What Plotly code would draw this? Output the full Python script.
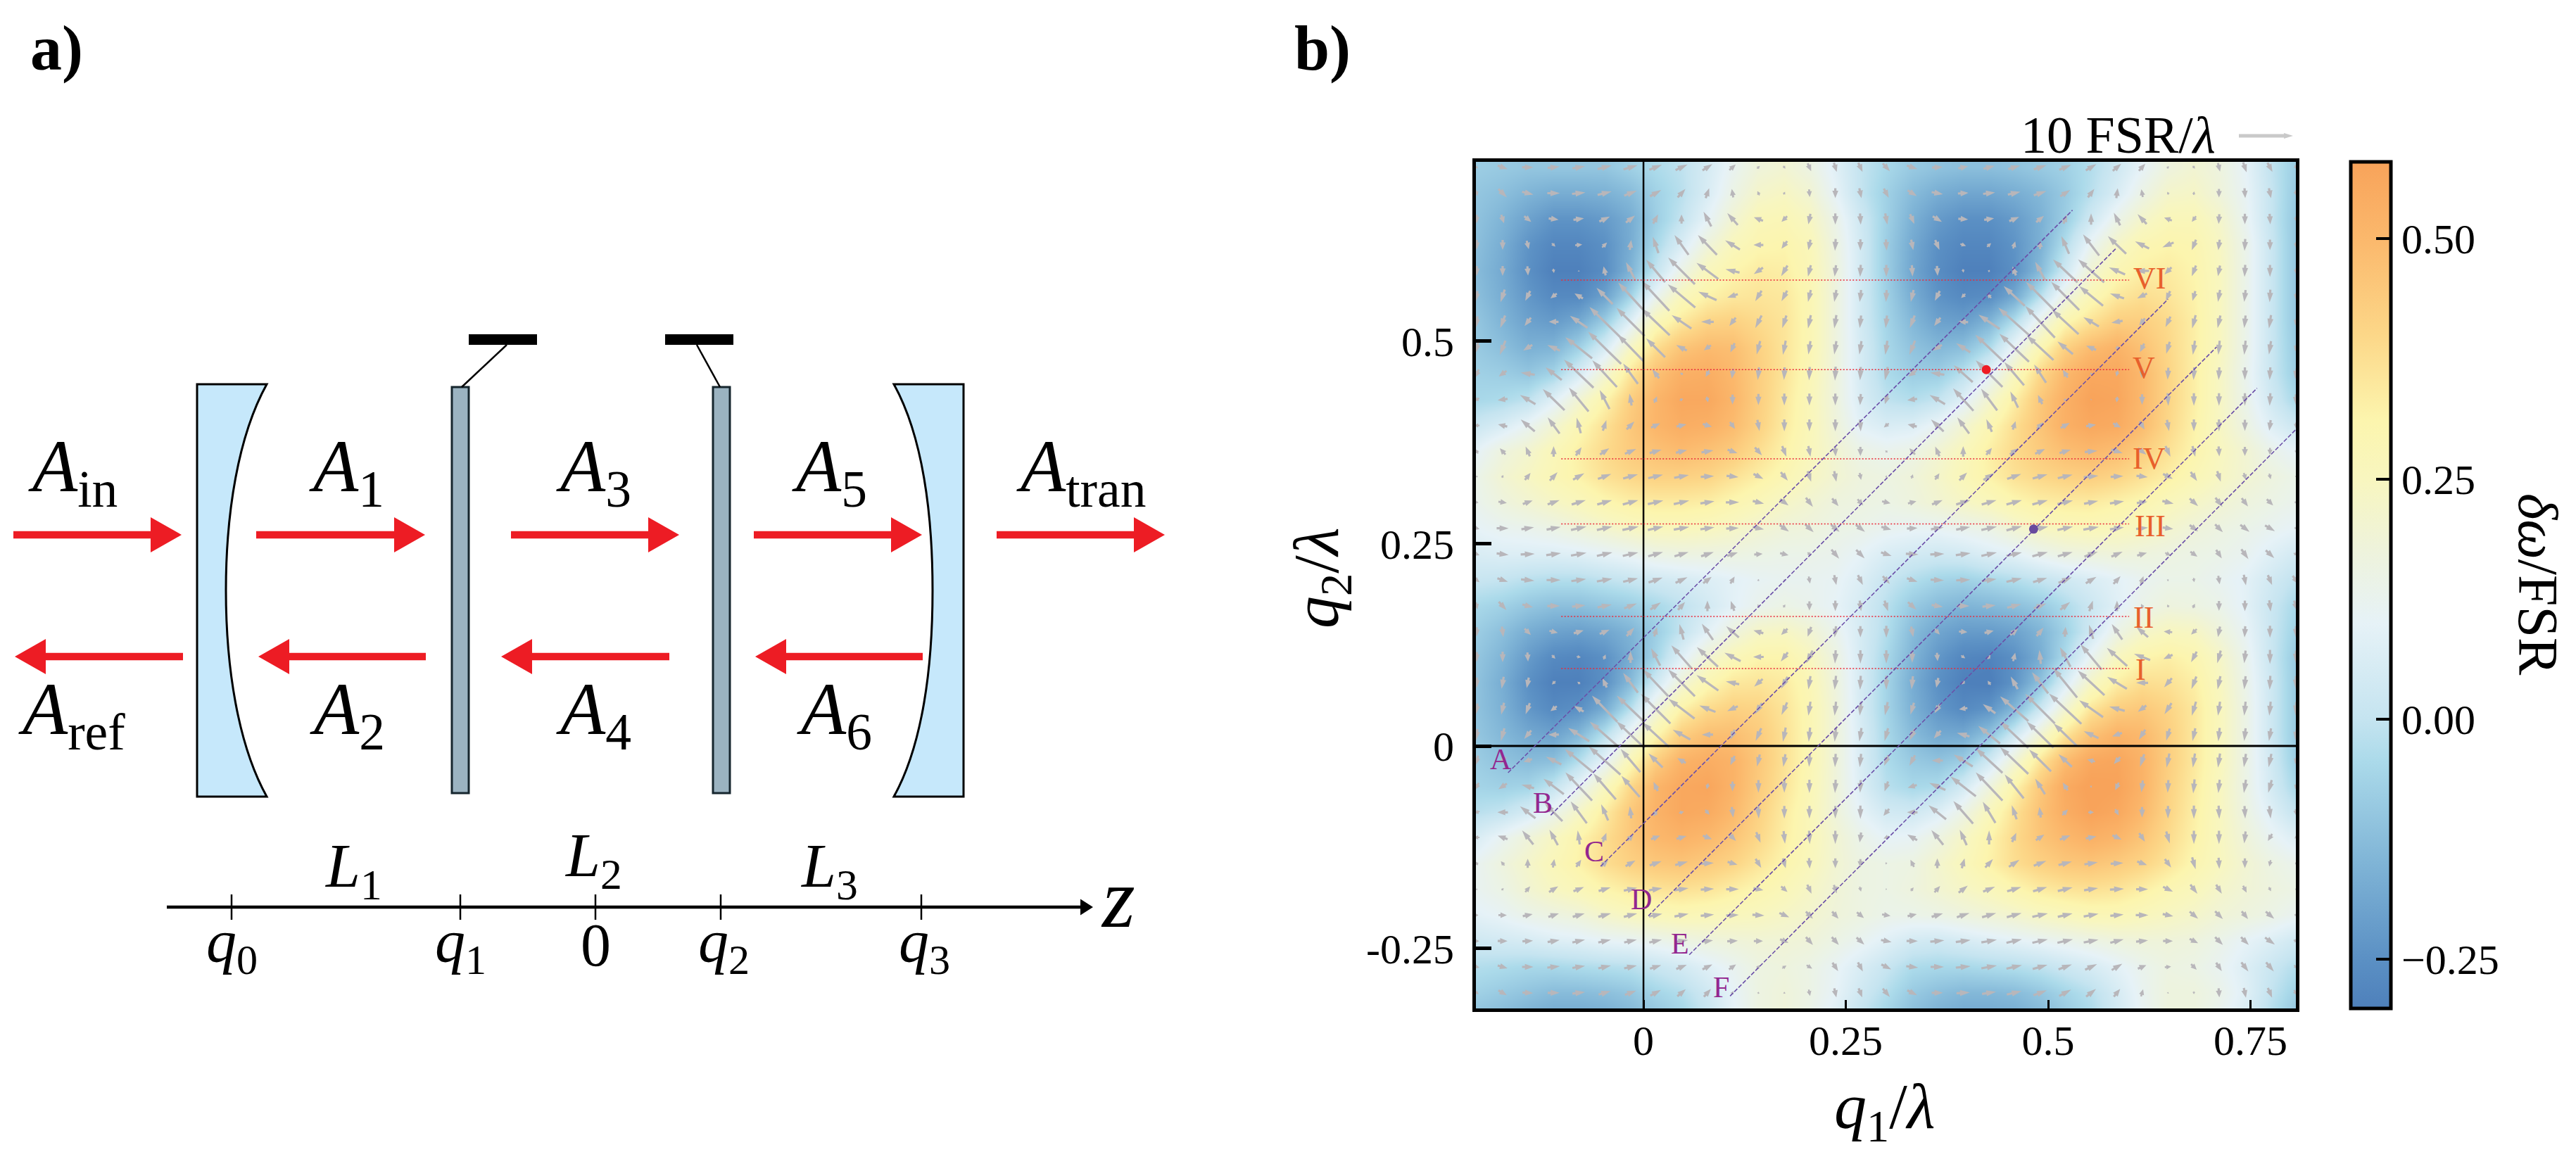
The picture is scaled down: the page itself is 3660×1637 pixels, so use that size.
import math

import plotly.graph_objects as go

#Sample points of the map and the arrow field.
q1_grid = [-0.206, -0.174, -0.143, -0.111, -0.080, -0.048, -0.016, 0.015, 0.047, 0.079, 0.110,
           0.142, 0.174, 0.205, 0.237, 0.268, 0.300, 0.332, 0.363, 0.395, 0.427, 0.458,
           0.490, 0.521, 0.553, 0.585, 0.616, 0.648, 0.680, 0.711, 0.743, 0.774, 0.806]
q2_grid = [0.715, 0.683, 0.651, 0.619, 0.587, 0.556, 0.524, 0.492, 0.460, 0.428, 0.396,
           0.364, 0.333, 0.301, 0.269, 0.237, 0.205, 0.173, 0.141, 0.110, 0.078, 0.046,
           0.014, -0.018, -0.050, -0.082, -0.113, -0.145, -0.177, -0.209, -0.241, -0.273, -0.305]
q2_heat_extra = -0.337

#delta omega / FSR in hundredths, one row per q2 value from the top.
heat_rows = [
    [-8,-9,-10,-10,-10,-10,-7,-4,-1,5,12,18,20,16,8,0,-5,-9,-11,-12,-12,-11,-9,-7,-3,3,10,17,20,17,10,0,-8],
    [-10,-12,-15,-17,-17,-16,-13,-7,-2,6,15,22,24,20,10,0,-7,-13,-17,-19,-19,-17,-14,-9,-2,6,15,22,23,18,11,1,-9],
    [-11,-15,-20,-24,-24,-22,-17,-8,0,10,20,27,28,24,14,3,-7,-16,-22,-25,-25,-22,-16,-8,3,14,22,27,27,22,12,1,-10],
    [-12,-17,-24,-28,-28,-25,-17,-5,6,18,26,30,31,27,16,4,-8,-18,-25,-28,-28,-24,-16,-3,12,23,29,31,30,24,14,2,-10],
    [-13,-18,-25,-30,-30,-26,-15,0,15,26,31,34,33,28,17,4,-8,-19,-26,-30,-30,-25,-13,3,20,29,33,34,31,25,14,2,-10],
    [-12,-17,-23,-27,-27,-20,-6,12,26,32,35,36,35,29,17,4,-7,-17,-24,-27,-26,-18,-2,16,28,35,38,36,32,25,14,2,-10],
    [-10,-15,-20,-22,-18,-8,8,27,35,41,42,39,36,29,17,4,-6,-14,-20,-21,-15,-3,15,30,37,43,43,39,33,25,14,2,-10],
    [-9,-12,-16,-15,-7,5,24,38,46,49,48,42,36,29,17,5,-5,-11,-14,-12,-4,12,29,42,49,52,47,40,33,25,14,2,-9],
    [-7,-8,-10,-6,5,20,36,47,53,54,50,43,36,28,17,5,-4,-8,-8,-2,9,25,40,50,56,56,50,41,33,24,13,2,-8],
    [-5,-4,-1,8,20,31,43,51,56,56,51,43,35,27,17,6,-1,-3,0,8,21,33,45,53,58,57,50,41,33,24,14,4,-5],
    [2,6,12,20,29,37,45,51,54,53,49,42,34,27,18,9,6,7,12,20,29,38,46,53,56,55,49,40,32,24,16,8,2],
    [10,17,21,27,33,39,44,47,49,47,44,38,32,26,20,15,13,15,20,26,33,39,44,48,50,48,43,37,31,25,20,14,10],
    [14,20,24,28,32,37,40,42,42,41,37,33,29,24,20,17,16,18,22,27,32,37,40,42,43,41,37,33,28,24,20,17,14],
    [13,17,20,23,26,30,33,34,34,33,30,27,23,20,17,16,15,17,20,23,26,30,33,34,34,32,30,26,23,20,17,15,13],
    [10,12,13,15,18,21,24,26,26,25,23,20,18,17,15,14,12,11,11,13,15,20,24,26,27,26,24,21,18,16,14,12,10],
    [6,7,7,7,8,10,12,15,16,16,16,15,14,14,13,10,6,4,3,4,7,9,13,16,17,18,17,16,15,14,12,8,4],
    [1,0,-2,-3,-3,-1,1,3,5,7,9,11,12,12,11,7,1,-3,-6,-7,-5,-3,0,3,6,9,12,14,14,12,9,4,-1],
    [-5,-7,-10,-12,-12,-10,-8,-5,-1,4,9,13,15,13,10,5,-2,-9,-13,-15,-14,-12,-9,-4,2,8,14,17,16,14,9,2,-5],
    [-8,-12,-17,-20,-21,-19,-15,-8,0,9,17,23,24,20,13,5,-3,-13,-19,-22,-22,-20,-15,-7,3,15,22,25,24,18,11,2,-7],
    [-10,-15,-22,-27,-28,-25,-17,-6,8,20,27,31,31,25,16,5,-5,-15,-23,-28,-29,-25,-17,-4,12,25,31,33,30,23,13,2,-9],
    [-11,-17,-25,-30,-30,-25,-13,3,19,29,35,36,34,28,17,5,-6,-17,-25,-30,-31,-24,-11,6,23,33,38,37,33,25,14,3,-9],
    [-11,-16,-23,-27,-25,-17,-2,17,32,39,42,41,36,29,18,5,-6,-16,-23,-27,-24,-14,2,20,36,43,45,41,35,26,15,3,-9],
    [-10,-14,-18,-20,-14,-2,14,30,43,48,48,44,37,29,18,6,-5,-13,-18,-18,-11,3,20,36,47,52,50,43,35,26,15,3,-9],
    [-8,-11,-13,-12,-3,10,28,43,52,54,52,45,37,29,18,6,-4,-9,-11,-8,3,19,36,49,56,57,52,43,35,26,15,4,-8],
    [-6,-7,-6,0,11,25,40,51,56,57,52,44,36,28,18,7,-2,-5,-4,4,17,31,45,55,59,58,52,42,34,25,15,5,-5],
    [-2,0,5,13,23,34,45,52,56,55,50,42,34,27,18,10,4,3,7,15,26,37,47,54,58,56,50,41,33,25,16,8,0],
    [6,12,18,24,31,38,45,50,52,50,46,40,33,27,20,14,10,11,16,23,31,39,46,50,53,51,46,39,32,25,18,12,7],
    [12,17,22,27,32,38,42,45,46,44,41,36,31,26,20,16,15,16,21,26,32,38,42,45,46,44,41,36,30,25,20,16,13],
    [12,15,20,24,27,31,34,36,37,36,33,30,27,23,19,16,15,17,20,23,26,30,34,36,37,36,33,29,26,22,19,17,15],
    [9,11,14,16,18,22,25,27,28,27,26,25,23,21,18,16,14,14,15,17,19,21,24,26,28,28,26,24,22,19,17,15,12],
    [3,4,5,7,8,10,11,13,15,17,18,19,19,18,15,12,8,4,3,5,7,9,11,13,15,17,18,18,17,14,10,7,3],
    [-3,-4,-5,-5,-4,-3,-2,1,4,8,12,16,17,15,11,6,1,-4,-5,-5,-4,-3,-1,2,5,9,13,16,15,12,7,2,-3],
    [-7,-9,-11,-13,-13,-12,-10,-6,-3,3,10,16,18,15,10,3,-3,-9,-12,-14,-14,-13,-10,-6,-2,5,12,17,17,14,8,0,-7],
    [-12,-14,-17,-19,-19,-18,-15,-11,-7,0,9,16,18,14,7,-1,-7,-13,-17,-19,-19,-18,-15,-10,-5,3,11,17,17,12,6,-3,-11],
]

#Arrow (q1, q2) components, one row per q2 value, 7.7 per FSR/lambda.
arrow_rows = [
    [(4,-3),(14,-5),(16,0),(17,2),(18,3),(20,5),(20,6),(18,7),(17,8),(14,9),(9,8),(4,4),(3,-4),(5,-11),(4,-13),(6,-13),(10,-11),(15,-5),(15,1),(14,3),(16,4),(17,5),(18,6),(17,7),(15,9),(12,10),(9,10),(3,3),(3,-4),(3,-12),(5,-14),(7,-13),(3,-6)],
    [(2,-8),(12,-12),(16,-4),(18,0),(19,2),(20,5),(18,7),(16,9),(11,12),(5,14),(-2,12),(-3,6),(2,4),(1,-11),(0,-14),(3,-14),(7,-13),(13,-8),(16,-3),(15,1),(17,2),(18,4),(18,6),(14,9),(9,12),(2,14),(-2,11),(-2,4),(1,5),(0,-12),(1,-14),(3,-14),(2,-8)],
    [(0,-12),(4,-12),(10,-8),(14,-2),(15,2),(15,7),(13,10),(7,13),(0,13),(-11,21),(-15,17),(-13,5),(-8,-8),(-3,-15),(0,-16),(1,-16),(3,-16),(6,-14),(13,-8),(14,-1),(14,2),(14,6),(11,9),(5,13),(0,16),(-9,18),(-13,14),(-11,4),(-6,-8),(-1,-14),(0,-15),(1,-15),(1,-7)],
    [(0,-14),(0,-14),(3,-12),(5,-5),(10,1),(7,7),(2,14),(-8,23),(-20,28),(-27,28),(-21,13),(-14,0),(-8,-11),(-3,-15),(-1,-17),(0,-16),(1,-16),(3,-15),(6,-14),(8,-3),(6,5),(3,10),(0,12),(-11,25),(-23,30),(-26,25),(-20,10),(-16,-7),(-6,-15),(-2,-15),(-1,-17),(0,-15),(0,-8)],
    [(0,-14),(0,-14),(1,-13),(1,-6),(0,2),(-3,13),(-13,25),(-27,32),(-38,38),(-31,23),(-20,5),(-13,-9),(-9,-15),(-4,-16),(-2,-16),(-1,-17),(0,-17),(1,-16),(1,-14),(1,-5),(2,3),(-5,13),(-14,26),(-35,33),(-37,33),(-23,10),(-20,0),(-10,-10),(-6,-15),(-3,-15),(-1,-17),(0,-17),(0,-8)],
    [(-2,-14),(-6,-18),(-7,-14),(-9,-7),(-12,7),(-23,23),(-35,38),(-39,42),(-39,33),(-26,12),(-15,-5),(-9,-15),(-8,-15),(-4,-17),(-3,-17),(-2,-17),(-1,-17),(-4,-17),(-7,-14),(-6,-6),(-6,6),(-30,28),(-40,40),(-40,40),(-34,28),(-20,7),(-14,-7),(-6,-14),(-4,-14),(-3,-17),(-2,-17),(-1,-18),(-1,-9)],
    [(-2,-16),(-7,-18),(-9,-12),(-14,0),(-25,17),(-43,42),(-40,40),(-40,38),(-28,19),(-18,0),(-9,-12),(-9,-18),(-6,-18),(-4,-19),(-3,-19),(-2,-18),(-2,-18),(-7,-18),(-9,-12),(-14,1),(-30,20),(-45,40),(-42,45),(-38,35),(-22,13),(-16,-3),(-8,-10),(-7,-15),(-5,-19),(-4,-18),(-2,-18),(-3,-19),(-2,-10)],
    [(-4,-16),(-8,-20),(-13,-8),(-18,8),(-38,30),(-47,46),(-37,38),(-27,27),(-15,8),(-10,-7),(-6,-13),(-5,-19),(-4,-20),(-3,-19),(-3,-19),(-3,-19),(-3,-20),(-8,-20),(-13,-8),(-20,13),(-39,37),(-42,40),(-38,35),(-22,18),(-14,6),(-5,-3),(-6,-12),(-5,-17),(-3,-20),(-2,-20),(-2,-20),(-3,-19),(-2,-10)],
    [(-6,-12),(-11,-8),(-20,3),(-23,18),(-42,40),(-35,38),(-21,29),(-10,13),(-4,3),(-5,-9),(-2,-14),(-2,-18),(-1,-18),(-1,-19),(-1,-20),(-1,-19),(-4,-19),(-11,-8),(-20,3),(-27,24),(-38,38),(-28,33),(-17,26),(-7,11),(-2,3),(-2,-8),(-1,-12),(-1,-17),(-1,-18),(-1,-18),(0,-18),(-1,-18),(-2,-15)],
    [(-7,-4),(-14,-2),(-22,13),(-31,30),(-28,34),(-14,27),(-3,17),(4,9),(5,2),(2,-8),(0,-14),(0,-16),(0,-17),(0,-17),(0,-17),(-1,-16),(-4,-13),(-14,-2),(-22,13),(-29,32),(-23,31),(-11,23),(-6,13),(3,3),(1,1),(-1,-8),(0,-15),(1,-18),(0,-18),(0,-18),(0,-18),(-1,-18),(0,-15)],
    [(-8,0),(-13,3),(-20,17),(-17,23),(-6,22),(5,15),(11,11),(13,6),(14,3),(13,-4),(7,-10),(3,-16),(0,-17),(0,-17),(0,-17),(1,-17),(-7,-6),(-13,3),(-18,17),(-17,23),(-8,18),(4,12),(9,9),(13,7),(14,2),(11,-6),(7,-12),(3,-16),(0,-17),(0,-17),(0,-16),(-2,-15),(0,-8)],
    [(-4,6),(-8,9),(-6,14),(0,15),(8,12),(13,9),(16,7),(17,5),(16,4),(17,3),(14,-5),(10,-11),(6,-15),(3,-15),(1,-14),(0,-13),(-3,3),(-8,9),(-6,14),(0,15),(8,10),(12,9),(14,7),(16,5),(18,2),(16,-5),(12,-9),(7,-15),(4,-15),(1,-14),(0,-13),(0,-10),(0,-4)],
    [(0,3),(2,4),(8,10),(11,12),(16,9),(19,7),(21,6),(21,5),(21,4),(19,1),(17,-2),(14,-7),(10,-12),(5,-15),(3,-15),(2,-10),(1,3),(2,6),(6,9),(11,11),(16,10),(20,7),(21,6),(21,5),(21,2),(18,1),(16,-2),(14,-7),(9,-13),(5,-15),(3,-10),(2,-8),(1,2)],
    [(5,-1),(12,-2),(14,5),(17,6),(20,6),(21,6),(22,6),(22,5),(22,5),(20,3),(19,0),(16,-4),(12,-9),(10,-13),(9,-11),(8,-9),(12,-3),(12,3),(15,6),(20,6),(21,6),(22,6),(22,6),(22,5),(20,4),(20,3),(15,2),(16,-4),(12,-11),(10,-13),(9,-12),(9,-9),(4,-1)],
    [(8,-2),(17,0),(18,3),(20,4),(22,5),(22,5),(23,5),(22,5),(22,4),(20,3),(18,1),(16,-3),(13,-9),(12,-11),(12,-10),(13,-10),(14,-4),(15,1),(18,3),(20,4),(22,5),(22,6),(23,5),(22,5),(22,4),(20,3),(17,2),(15,-2),(12,-9),(11,-11),(13,-10),(14,-8),(4,-2)],
    [(8,-3),(17,-2),(20,1),(21,3),(22,4),(22,5),(22,5),(21,6),(20,6),(18,6),(15,5),(12,1),(12,-3),(5,-5),(11,-13),(12,-12),(15,-5),(18,-1),(20,1),(21,3),(22,5),(22,5),(22,6),(21,6),(19,7),(16,7),(14,4),(8,-4),(10,-7),(8,-12),(10,-14),(12,-11),(6,-3)],
    [(8,-6),(15,-5),(19,-2),(20,0),(21,3),(22,4),(21,5),(20,7),(17,8),(12,9),(6,10),(1,3),(1,2),(2,-10),(3,-14),(7,-14),(10,-11),(15,-5),(19,-1),(20,1),(21,3),(22,5),(20,6),(19,8),(15,9),(10,11),(4,11),(2,2),(1,-6),(2,-12),(3,-15),(6,-14),(9,-12)],
    [(2,-10),(11,-12),(15,-4),(18,0),(19,2),(20,4),(18,7),(15,10),(10,11),(0,15),(-5,14),(-2,5),(3,4),(0,-13),(0,-15),(2,-15),(5,-15),(12,-11),(16,-3),(18,0),(19,2),(20,5),(18,7),(14,11),(5,15),(0,15),(-3,6),(-2,4),(3,6),(0,-14),(0,-15),(2,-16),(5,-15)],
    [(0,-13),(2,-15),(9,-9),(12,-3),(14,4),(14,6),(11,12),(4,13),(-6,22),(-16,23),(-18,16),(-14,4),(-9,-9),(-5,-14),(-2,-16),(0,-16),(0,-17),(3,-15),(7,-8),(12,-1),(13,3),(11,9),(10,12),(1,14),(-6,20),(-15,22),(-17,15),(-12,1),(-8,-8),(-3,-15),(-1,-16),(0,-17),(0,-16)],
    [(0,-14),(0,-15),(1,-13),(5,-5),(6,-1),(3,7),(0,17),(-13,25),(-29,33),(-30,28),(-23,12),(-15,0),(-10,-13),(-9,-18),(-1,-19),(0,-19),(0,-19),(0,-17),(1,-12),(6,-4),(4,6),(3,12),(-2,20),(-15,28),(-30,36),(-29,26),(-23,9),(-13,-6),(-8,-15),(-5,-18),(-2,-18),(0,-20),(0,-18)],
    [(0,-15),(-3,-17),(-3,-15),(-5,-5),(-4,3),(-6,13),(-21,28),(-36,38),(-38,38),(-31,22),(-19,4),(-12,-11),(-9,-17),(-3,-19),(-2,-20),(-1,-20),(0,-20),(-2,-19),(-3,-14),(-4,-5),(-4,6),(-10,18),(-23,30),(-34,42),(-38,35),(-28,17),(-17,0),(-11,-13),(-7,-18),(-4,-19),(-2,-19),(-1,-20),(0,-19)],
    [(-2,-15),(-4,-17),(-6,-16),(-9,-7),(-14,8),(-36,37),(-39,37),(-42,42),(-37,28),(-23,9),(-15,-7),(-10,-16),(-8,-18),(-3,-20),(-2,-20),(-2,-20),(-4,-19),(-5,-17),(-8,-13),(-12,-2),(-18,13),(-40,35),(-42,42),(-46,43),(-34,24),(-22,6),(-12,-9),(-10,-16),(-6,-20),(-3,-20),(-2,-20),(-2,-20),(-1,-19)],
    [(-2,-16),(-5,-18),(-10,-12),(-15,0),(-30,19),(-42,37),(-40,38),(-38,35),(-25,14),(-16,0),(-6,-14),(-8,-18),(-4,-20),(-2,-20),(-2,-20),(-3,-19),(-5,-18),(-7,-16),(-10,-11),(-18,5),(-31,25),(-40,38),(-38,37),(-33,32),(-21,10),(-14,-5),(-9,-14),(-5,-17),(-4,-18),(-2,-19),(-2,-18),(-3,-18),(-2,-15)],
    [(-4,-14),(-9,-10),(-12,-4),(-22,11),(-40,33),(-45,40),(-28,33),(-20,20),(-12,7),(-4,-3),(-6,-13),(-4,-17),(-3,-18),(-1,-18),(-1,-19),(-2,-19),(-6,-15),(-8,-15),(-16,0),(-27,17),(-38,35),(-40,38),(-31,31),(-19,18),(-11,3),(-9,-10),(-6,-18),(-4,-20),(-3,-20),(-3,-20),(-3,-19),(-4,-19),(-2,-10)],
    [(-6,-10),(-12,-8),(-18,5),(-29,22),(-38,40),(-32,37),(-26,30),(-6,13),(-2,2),(-2,-8),(0,-14),(0,-18),(0,-18),(0,-19),(-1,-19),(-1,-18),(-5,-14),(-13,-4),(-23,10),(-36,28),(-38,40),(-27,34),(-14,22),(-7,11),(2,2),(-5,-11),(-2,-17),(-1,-18),(-2,-20),(-2,-19),(-3,-19),(-5,-18),(-2,-8)],
    [(-8,-3),(-15,0),(-22,17),(-25,25),(-23,31),(-10,23),(-2,17),(5,10),(7,2),(6,-7),(2,-15),(1,-18),(0,-18),(0,-18),(0,-18),(0,-19),(-8,-10),(-15,0),(-25,20),(-28,32),(-18,30),(-7,20),(-2,15),(8,8),(8,0),(5,-9),(0,-15),(0,-18),(0,-19),(1,-19),(1,-18),(2,-18),(1,-9)],
    [(-8,0),(-14,5),(-16,20),(-12,22),(-3,20),(5,13),(9,9),(13,5),(14,4),(13,-5),(10,-10),(6,-15),(2,-18),(1,-19),(0,-19),(-2,-14),(-8,-3),(-14,8),(-17,21),(-10,22),(0,20),(6,13),(12,8),(15,6),(15,3),(13,-6),(8,-12),(5,-17),(0,-19),(0,-19),(-2,-17),(-6,-10),(-4,-3)],
    [(-3,5),(-5,6),(0,13),(2,12),(7,10),(10,9),(14,8),(17,6),(18,5),(18,1),(14,-4),(8,-13),(4,-14),(1,-15),(0,-14),(0,-12),(3,0),(-5,10),(0,14),(4,14),(11,12),(15,10),(18,7),(19,5),(19,3),(18,1),(14,-5),(9,-12),(5,-17),(1,-16),(0,-14),(-2,-9),(-2,3)],
    [(1,2),(3,3),(7,8),(13,8),(15,6),(17,5),(19,4),(19,3),(20,3),(19,1),(18,0),(14,-3),(9,-8),(6,-13),(4,-12),(2,-7),(2,0),(4,5),(8,9),(13,10),(17,7),(20,6),(20,6),(21,5),(20,3),(20,1),(17,0),(14,-7),(10,-13),(8,-13),(5,-10),(3,-6),(2,1)],
    [(5,0),(12,0),(14,3),(15,5),(17,5),(18,5),(19,5),(19,4),(20,4),(19,2),(18,1),(17,-1),(14,-6),(10,-10),(9,-10),(10,-8),(12,-2),(13,3),(16,5),(18,6),(20,6),(21,6),(22,5),(21,5),(21,4),(19,2),(18,0),(15,-3),(12,-10),(11,-11),(9,-11),(12,-10),(4,-2)],
    [(7,0),(14,0),(15,1),(17,3),(18,4),(18,4),(18,4),(18,4),(19,3),(16,2),(15,1),(13,0),(12,-5),(10,-11),(10,-11),(11,-10),(15,-3),(16,0),(20,2),(21,3),(22,4),(22,5),(22,5),(22,5),(21,4),(19,5),(17,2),(14,0),(12,-6),(11,-11),(11,-11),(14,-10),(6,-3)],
    [(8,-2),(14,-4),(16,0),(18,2),(18,3),(18,4),(18,4),(16,5),(15,6),(14,7),(10,7),(5,5),(6,4),(8,-5),(8,-12),(7,-13),(14,-7),(17,-2),(19,0),(21,2),(22,4),(22,5),(21,6),(19,7),(17,8),(15,9),(12,5),(9,1),(8,-8),(8,-12),(10,-13),(11,-13),(5,-5)],
    [(6,-4),(12,-7),(15,-1),(17,0),(18,2),(17,5),(16,6),(15,8),(12,10),(10,11),(3,5),(1,3),(0,3),(2,-9),(3,-13),(5,-13),(10,-12),(14,-7),(16,0),(19,1),(20,3),(21,5),(19,7),(17,9),(14,11),(9,11),(3,10),(1,2),(0,-4),(1,-13),(3,-14),(6,-14),(5,-8)],
]

#Scan lines on the map.
hline_q2 = [0.0957, 0.16, 0.2743, 0.3548, 0.465, 0.5756]
hline_start_q1 = -0.1016
hline_end_q1 = 0.60
hline_names = ["I", "II", "III", "IV", "V", "VI"]
hline_name_q1 = [0.614, 0.618, 0.626, 0.625, 0.618, 0.625]
hline_name_q2 = [0.094, 0.159, 0.272, 0.355, 0.467, 0.5774]

diag_names = ["A", "B", "C", "D", "E", "F"]
diag_start_q1 = [-0.1673, -0.1146, -0.053, 0.006, 0.0566, 0.107]
diag_start_q2 = [-0.033, -0.0855, -0.1487, -0.21, -0.258, -0.309]
diag_end_q1 = [0.53, 0.584, 0.648, 0.708, 0.758, 0.806]
diag_end_q2 = [0.662, 0.615, 0.552, 0.493, 0.442, 0.391]
diag_name_q1 = [-0.1765, -0.124, -0.061, -0.0026, 0.045, 0.0957]
diag_name_q2 = [-0.0165, -0.07, -0.13, -0.1896, -0.244, -0.298]

point_q1 = [0.4235, 0.482]
point_q2 = [0.465, 0.268]
point_colors = ["#ee1c25", "#684a9e"]

#Sketch of the cavity, in page pixels.
plate_left = [642, 1013]
plate_right = [666, 1037]
mount_left = [666, 945]
mount_right = [763, 1042]
wire_top_x = [720, 990]
wire_bottom_x = [656, 1023]
beam_right_tail = [19, 364, 726, 1071, 1416]
beam_right_tip = [258, 604, 965, 1310, 1655]
beam_left_tail = [260, 605, 951, 1311]
beam_left_tip = [21, 367, 712, 1073]
z_ticks_x = [329, 654, 846, 1024, 1309]
z_tick_names = ["<i>q</i><sub>0</sub>", "<i>q</i><sub>1</sub>", "0", "<i>q</i><sub>2</sub>", "<i>q</i><sub>3</sub>"]
z_tick_text_x = [329, 654, 846, 1028, 1313]
top_names = ["<i>A</i><sub>in</sub>", "<i>A</i><sub>1</sub>", "<i>A</i><sub>3</sub>", "<i>A</i><sub>5</sub>", "<i>A</i><sub>tran</sub>"]
top_names_x = [103, 492, 843, 1178, 1536]
bottom_names = ["<i>A</i><sub>ref</sub>", "<i>A</i><sub>2</sub>", "<i>A</i><sub>4</sub>", "<i>A</i><sub>6</sub>"]
bottom_names_x = [102, 493, 843, 1185]
length_names = ["<i>L</i><sub>1</sub>", "<i>L</i><sub>2</sub>", "<i>L</i><sub>3</sub>"]
length_names_x = [502, 843, 1178]
length_names_y = [1236, 1221, 1236]

colorscale = [
    [0.0, "#4e80bb"], [0.058, "#5b90c4"], [0.171, "#7fb4d6"], [0.292, "#abdaea"],
    [0.342, "#c5e4f0"], [0.455, "#e6f2f7"], [0.54, "#eef3dc"], [0.625, "#f8f6bf"],
    [0.694, "#fcf5ae"], [0.796, "#fcd788"], [0.909, "#fbb86c"], [1.0, "#f8a35a"],
]

PAGE_W, PAGE_H = 3660, 1637
PLOT_L, PLOT_R, PLOT_T, PLOT_B = 2097, 3262, 230, 1433
Q1_RANGE = [-0.207, 0.806]
Q2_RANGE = [-0.3243, 0.7217]
PX_PER_Q = (PLOT_R - PLOT_L) / (Q1_RANGE[1] - Q1_RANGE[0])
FONT = "Liberation Serif"


def arrow_outline(x0, y0, x1, y1, shaft, head_w, head_l):
    #Closed outline of one arrow, followed by a gap for the next one.
    length = math.hypot(x1 - x0, y1 - y0)
    if length == 0:
        return [], []
    ux, uy = (x1 - x0) / length, (y1 - y0) / length
    nx, ny = -uy, ux
    neck_x, neck_y = x1 - ux * head_l, y1 - uy * head_l
    pts = [
        (x0 + nx * shaft / 2, y0 + ny * shaft / 2),
        (neck_x + nx * shaft / 2, neck_y + ny * shaft / 2),
        (neck_x + nx * head_w / 2, neck_y + ny * head_w / 2),
        (x1, y1),
        (neck_x - nx * head_w / 2, neck_y - ny * head_w / 2),
        (neck_x - nx * shaft / 2, neck_y - ny * shaft / 2),
        (x0 - nx * shaft / 2, y0 - ny * shaft / 2),
        (x0 + nx * shaft / 2, y0 + ny * shaft / 2),
    ]
    return [p[0] for p in pts] + [None], [p[1] for p in pts] + [None]


fig = go.Figure()

#The map with its colour bar.
fig.add_trace(go.Heatmap(
    x=q1_grid, y=q2_grid + [q2_heat_extra],
    z=[[v / 100 for v in row] for row in heat_rows],
    zsmooth="best", zmin=-0.301, zmax=0.58, colorscale=colorscale, hoverinfo="skip",
    colorbar=dict(
        x=3340 / PAGE_W, xanchor="left", xpad=0, ypad=0,
        y=1 - PLOT_T / PAGE_H, yanchor="top",
        len=(PLOT_B - PLOT_T) / PAGE_H, lenmode="fraction",
        thickness=57, thicknessmode="pixels",
        outlinewidth=5, outlinecolor="black", borderwidth=0,
        ticks="inside", ticklen=23, tickwidth=4, tickcolor="black",
        tickvals=[-0.25, 0, 0.25, 0.5], ticktext=["\u22120.25", "0.00", "0.25", "0.50"],
        tickfont=dict(family=FONT, size=60, color="black"),
    ),
))

#Arrow field, drawn around each sample point.
qx, qy = [], []
for q2, row in zip(q2_grid, arrow_rows):
    for q1, (u, v) in zip(q1_grid, row):
        size = math.hypot(u, v)
        hx, hy = u / PX_PER_Q / 2, v / PX_PER_Q / 2
        xs, ys = arrow_outline(q1 - hx, q2 - hy, q1 + hx, q2 + hy,
                               min(3.2, 0.5 + size * 0.2) / PX_PER_Q,
                               min(8.5, 2 + size * 0.5) / PX_PER_Q,
                               min(14, size * 0.75) / PX_PER_Q)
        qx += xs
        qy += ys
fig.add_trace(go.Scatter(x=qx, y=qy, mode="lines", fill="toself", fillcolor="#b8b6ba",
                         line=dict(width=0, color="#b8b6ba"), hoverinfo="skip", showlegend=False))

#Zero lines.
fig.add_trace(go.Scatter(x=[0, 0], y=Q2_RANGE, mode="lines", line=dict(color="black", width=2.5),
                         hoverinfo="skip", showlegend=False))
fig.add_trace(go.Scatter(x=Q1_RANGE, y=[0, 0], mode="lines", line=dict(color="black", width=3),
                         hoverinfo="skip", showlegend=False))

#Scan lines.
hx, hy = [], []
for q2 in hline_q2:
    hx += [hline_start_q1, hline_end_q1, None]
    hy += [q2, q2, None]
fig.add_trace(go.Scatter(x=hx, y=hy, mode="lines", line=dict(color="#ea2a3a", width=1.6, dash="2px,2.5px"),
                         hoverinfo="skip", showlegend=False))
dx, dy = [], []
for i in range(len(diag_names)):
    dx += [diag_start_q1[i], diag_end_q1[i], None]
    dy += [diag_start_q2[i], diag_end_q2[i], None]
fig.add_trace(go.Scatter(x=dx, y=dy, mode="lines", line=dict(color="#6b4fa8", width=1.6, dash="6px,2.5px"),
                         hoverinfo="skip", showlegend=False))
fig.add_trace(go.Scatter(x=point_q1, y=point_q2, mode="markers",
                         marker=dict(color=point_colors, size=13), hoverinfo="skip", showlegend=False))

#Sketch traces use a second pair of axes measured in page pixels.
rx, ry = [], []
for tail, tip in zip(beam_right_tail, beam_right_tip):
    xs, ys = arrow_outline(tail, 760, tip, 760, 10.5, 50, 44)
    rx += xs
    ry += ys
for tail, tip in zip(beam_left_tail, beam_left_tip):
    xs, ys = arrow_outline(tail, 933, tip, 933, 10.5, 50, 44)
    rx += xs
    ry += ys
fig.add_trace(go.Scatter(x=rx, y=ry, xaxis="x2", yaxis="y2", mode="lines", fill="toself",
                         fillcolor="#ed1c24", line=dict(width=0, color="#ed1c24"),
                         hoverinfo="skip", showlegend=False))

xs, ys = arrow_outline(237, 1289, 1553, 1289, 4.5, 23, 18)
fig.add_trace(go.Scatter(x=xs, y=ys, xaxis="x2", yaxis="y2", mode="lines", fill="toself",
                         fillcolor="black", line=dict(width=0, color="black"),
                         hoverinfo="skip", showlegend=False))
tx, ty = [], []
for x in z_ticks_x:
    tx += [x, x, None]
    ty += [1271, 1307, None]
fig.add_trace(go.Scatter(x=tx, y=ty, xaxis="x2", yaxis="y2", mode="lines",
                         line=dict(color="black", width=2.5), hoverinfo="skip", showlegend=False))

xs, ys = arrow_outline(3181, 193, 3258, 193, 5, 8, 13)
fig.add_trace(go.Scatter(x=xs, y=ys, xaxis="x2", yaxis="y2", mode="lines", fill="toself",
                         fillcolor="#c9c9c9", line=dict(width=0, color="#c9c9c9"),
                         hoverinfo="skip", showlegend=False))

shapes = []
#Curved mirrors.
for path in [
    "M 280 546 L 379 546 C 338 620 321 730 321 839 C 321 948 338 1058 379 1132 L 280 1132 Z",
    "M 1369 546 L 1270 546 C 1311 620 1325 730 1325 839 C 1325 948 1311 1058 1270 1132 L 1369 1132 Z",
]:
    shapes.append(dict(type="path", path=path, xref="x2", yref="y2",
                       fillcolor="#c6e8fb", line=dict(color="black", width=3)))
#Movable plates and their mounts.
for i in range(2):
    shapes.append(dict(type="rect", xref="x2", yref="y2", x0=plate_left[i], x1=plate_right[i], y0=550, y1=1127,
                       fillcolor="#9bb3c1", line=dict(color="#16262e", width=3)))
    shapes.append(dict(type="rect", xref="x2", yref="y2", x0=mount_left[i], x1=mount_right[i], y0=475, y1=490,
                       fillcolor="black", line=dict(width=0)))
    shapes.append(dict(type="line", xref="x2", yref="y2", x0=wire_top_x[i], x1=wire_bottom_x[i], y0=490, y1=550,
                       line=dict(color="black", width=2.5)))


def page_text(text, x, y, size, **kw):
    return dict(text=text, x=x, y=y, xref="x2", yref="y2", showarrow=False, xanchor="center", yanchor="middle",
                font=dict(family=FONT, size=size, color="black"), **kw)


annotations = [
    page_text("<b>a)</b>", 80, 69, 90),
    page_text("<b>b)</b>", 1879, 69, 90),
    page_text("<i>z</i>", 1588, 1276, 120),
    page_text("10 FSR/<i>\u03bb</i>", 3009, 192, 74),
    page_text("<i>q</i><sub>1</sub>/<i>\u03bb</i>", 2678, 1578, 92),
    page_text("<i>q</i><sub>2</sub>/<i>\u03bb</i>", 1876, 821, 92, textangle=-90),
    page_text("<i>\u03b4\u03c9</i>/FSR", 3606, 830, 80, textangle=90),
]
for name, x in zip(top_names, top_names_x):
    annotations.append(page_text(name, x, 670, 105))
for name, x in zip(bottom_names, bottom_names_x):
    annotations.append(page_text(name, x, 1015, 105))
for name, x in zip(z_tick_names, z_tick_text_x):
    annotations.append(page_text(name, x, 1343, 86))
for name, x, y in zip(length_names, length_names_x, length_names_y):
    annotations.append(page_text(name, x, y, 88))
for name, x, y in zip(diag_names, diag_name_q1, diag_name_q2):
    annotations.append(dict(text=name, x=x, y=y, xref="x", yref="y", showarrow=False,
                            font=dict(family=FONT, size=42, color="#93278f")))
for name, x, y in zip(hline_names, hline_name_q1, hline_name_q2):
    annotations.append(dict(text=name, x=x, y=y, xref="x", yref="y", showarrow=False,
                            font=dict(family=FONT, size=44, color="#e8602c")))

fig.update_layout(
    width=PAGE_W, height=PAGE_H, autosize=False,
    margin=dict(l=0, r=0, t=0, b=0, pad=0, autoexpand=False),
    paper_bgcolor="white", plot_bgcolor="rgba(0,0,0,0)", showlegend=False,
    shapes=shapes, annotations=annotations,
    xaxis=dict(
        domain=[PLOT_L / PAGE_W, PLOT_R / PAGE_W], range=Q1_RANGE, showgrid=False, zeroline=False,
        showline=True, mirror=True, linewidth=5, linecolor="black",
        ticks="inside", ticklen=12, tickwidth=3, tickcolor="black", ticklabelstandoff=-11,
        tickvals=[0, 0.25, 0.5, 0.75], ticktext=["0", "0.25", "0.5", "0.75"],
        tickfont=dict(family=FONT, size=60, color="black"),
    ),
    yaxis=dict(
        domain=[1 - PLOT_B / PAGE_H, 1 - PLOT_T / PAGE_H], range=Q2_RANGE, showgrid=False, zeroline=False,
        showline=True, mirror=True, linewidth=5, linecolor="black",
        ticks="inside", ticklen=22, tickwidth=5, tickcolor="black", ticklabelstandoff=14,
        tickvals=[-0.25, 0, 0.25, 0.5], ticktext=["-0.25", "0", "0.25", "0.5"],
        tickfont=dict(family=FONT, size=60, color="black"),
    ),
    xaxis2=dict(domain=[0, 1], range=[0, PAGE_W], visible=False, anchor="y2", fixedrange=True),
    yaxis2=dict(domain=[0, 1], range=[PAGE_H, 0], visible=False, anchor="x2", fixedrange=True),
)

fig.write_html("out.html", config={"displayModeBar": False},
               post_script="document.body.style.margin='0';")
